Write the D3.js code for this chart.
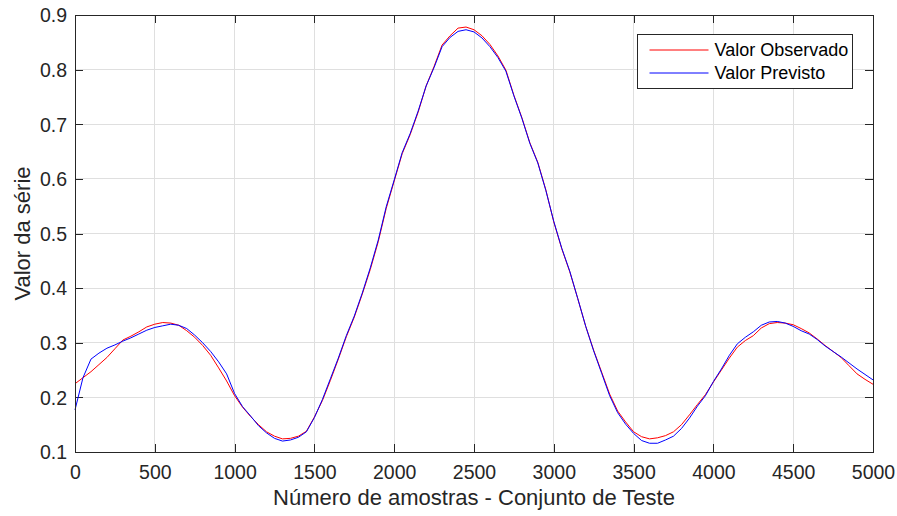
<!DOCTYPE html>
<html>
<head>
<meta charset="utf-8">
<script src="https://cdn.jsdelivr.net/npm/d3@7"></script>
<style>
  html, body { margin: 0; padding: 0; background: #fff; }
  svg { display: block; font-family: "Liberation Sans", Arial, Helvetica, sans-serif; }
</style>
</head>
<body>
<svg id="chart" width="897" height="516"></svg>
<script>
// Sample index (x) for both series, every 50 samples from 0 to 5000
const samples = d3.range(0, 5001, 50);

// Observed series
const observed = [
  0.225, 0.236, 0.247, 0.260, 0.273, 0.289, 0.305, 0.312, 0.320, 0.329,
  0.334, 0.337, 0.336, 0.332, 0.322, 0.310, 0.295, 0.277, 0.254, 0.230,
  0.203, 0.182, 0.165, 0.150, 0.137, 0.129, 0.124, 0.125, 0.129, 0.138,
  0.164, 0.194, 0.231, 0.270, 0.311, 0.347, 0.389, 0.434, 0.485, 0.546,
  0.596, 0.646, 0.681, 0.722, 0.770, 0.806, 0.845, 0.862, 0.876, 0.878,
  0.873, 0.862, 0.846, 0.825, 0.799, 0.753, 0.712, 0.666, 0.630, 0.580,
  0.521, 0.472, 0.430, 0.381, 0.330, 0.286, 0.246, 0.206, 0.175, 0.155,
  0.137, 0.128, 0.124, 0.126, 0.130, 0.137, 0.150, 0.168, 0.187, 0.205,
  0.228, 0.250, 0.272, 0.292, 0.304, 0.313, 0.327, 0.335, 0.337, 0.336,
  0.333, 0.326, 0.318, 0.307, 0.295, 0.284, 0.273, 0.258, 0.243, 0.233,
  0.224
];

// Predicted series
const predicted = [
  0.177, 0.236, 0.270, 0.281, 0.290, 0.296, 0.303, 0.309, 0.316, 0.323,
  0.328, 0.331, 0.334, 0.332, 0.326, 0.314, 0.300, 0.284, 0.265, 0.243,
  0.207, 0.183, 0.166, 0.148, 0.135, 0.125, 0.120, 0.122, 0.127, 0.137,
  0.163, 0.196, 0.234, 0.272, 0.313, 0.349, 0.391, 0.437, 0.488, 0.549,
  0.598, 0.648, 0.683, 0.724, 0.770, 0.804, 0.842, 0.859, 0.870, 0.873,
  0.869, 0.858, 0.842, 0.822, 0.797, 0.752, 0.711, 0.665, 0.629, 0.579,
  0.522, 0.473, 0.431, 0.381, 0.330, 0.285, 0.244, 0.203, 0.172, 0.151,
  0.134, 0.121, 0.116, 0.116, 0.122, 0.129, 0.143, 0.162, 0.184, 0.203,
  0.229, 0.252, 0.277, 0.298, 0.310, 0.320, 0.332, 0.338, 0.339, 0.336,
  0.330, 0.322, 0.316, 0.306, 0.294, 0.284, 0.274, 0.263, 0.252, 0.242,
  0.232
];

// Axis ticks and labels
const xTicks = [0, 500, 1000, 1500, 2000, 2500, 3000, 3500, 4000, 4500, 5000];
const yTicks = [0.1, 0.2, 0.3, 0.4, 0.5, 0.6, 0.7, 0.8, 0.9];
const seriesNames = ["Valor Observado", "Valor Previsto"];
const seriesColors = ["#ff0000", "#0000ff"];
const xLabel = "Número de amostras - Conjunto de Teste";
const yLabel = "Valor da série";

const svg = d3.select("#chart");
const margin = { left: 75, top: 15, right: 897 - 873, bottom: 516 - 452 };
const W = 897 - margin.left - margin.right;
const H = 516 - margin.top - margin.bottom;

const x = d3.scaleLinear().domain([0, 5000]).range([0, W]);
const y = d3.scaleLinear().domain([0.1, 0.9]).range([H, 0]);

const g = svg.append("g").attr("transform", `translate(${margin.left},${margin.top})`);

// Grid
g.append("g").selectAll("line").data(xTicks.slice(1, -1)).join("line")
  .attr("x1", d => x(d)).attr("x2", d => x(d))
  .attr("y1", 0).attr("y2", H)
  .attr("stroke", "#dfdfdf").attr("stroke-width", 1).attr("shape-rendering", "crispEdges");
g.append("g").selectAll("line").data(yTicks.slice(1, -1)).join("line")
  .attr("y1", d => y(d)).attr("y2", d => y(d))
  .attr("x1", 0).attr("x2", W)
  .attr("stroke", "#dfdfdf").attr("stroke-width", 1).attr("shape-rendering", "crispEdges");

// Axes with inward ticks
const tickLen = 8;
const fmtX = d3.format("d");
const fmtY = d3.format(".1f");
const axisColor = "#262626";

const xAxis = g.append("g").attr("transform", `translate(0,${H})`)
  .call(d3.axisBottom(x).tickValues(xTicks).tickFormat(fmtX).tickSizeInner(-tickLen).tickSizeOuter(0).tickPadding(13));
const yAxis = g.append("g")
  .call(d3.axisLeft(y).tickValues(yTicks).tickFormat(fmtY).tickSizeInner(-tickLen).tickSizeOuter(0).tickPadding(8));
const xTop = g.append("g")
  .call(d3.axisTop(x).tickValues(xTicks).tickSizeInner(-tickLen).tickSizeOuter(0).tickFormat(""));
const yRight = g.append("g").attr("transform", `translate(${W},0)`)
  .call(d3.axisRight(y).tickValues(yTicks).tickSizeInner(-tickLen).tickSizeOuter(0).tickFormat(""));

[xAxis, yAxis, xTop, yRight].forEach(a => {
  a.select(".domain").attr("stroke", axisColor).attr("shape-rendering", "crispEdges");
  a.selectAll(".tick line").attr("stroke", axisColor).attr("shape-rendering", "crispEdges");
  a.selectAll(".tick text").attr("fill", axisColor).style("font-size", "19.5px")
    .style("font-family", "'Liberation Sans', Arial, sans-serif");
});
yAxis.selectAll(".tick text").attr("dy", "0.35em");

// Series lines
const line = d3.line().x((d, i) => x(samples[i])).y(d => y(d));
[observed, predicted].forEach((vals, k) => {
  g.append("path").datum(vals)
    .attr("fill", "none")
    .attr("stroke", seriesColors[k])
    .attr("stroke-width", 1)
    .attr("stroke-linejoin", "round")
    .attr("d", line);
});

// Frame on top
g.append("rect").attr("x", 0).attr("y", 0).attr("width", W).attr("height", H)
  .attr("fill", "none").attr("stroke", axisColor).attr("stroke-width", 1)
  .attr("shape-rendering", "crispEdges");

// Axis titles
svg.append("text")
  .attr("x", margin.left + W / 2).attr("y", 505)
  .attr("text-anchor", "middle")
  .attr("fill", axisColor)
  .style("font-size", "22px")
  .text(xLabel);
svg.append("text")
  .attr("transform", `translate(30,${margin.top + H / 2}) rotate(-90)`)
  .attr("text-anchor", "middle")
  .attr("fill", axisColor)
  .style("font-size", "22px")
  .text(yLabel);

// Legend
const lg = svg.append("g").attr("transform", "translate(637.5,34.5)");
lg.append("rect").attr("width", 215).attr("height", 54)
  .attr("fill", "#fff").attr("stroke", axisColor).attr("stroke-width", 1)
  .attr("shape-rendering", "crispEdges");
seriesNames.forEach((name, i) => {
  const cy = 15.5 + i * 23;
  lg.append("line").attr("x1", 12).attr("x2", 71).attr("y1", cy).attr("y2", cy)
    .attr("stroke", seriesColors[i]).attr("stroke-width", 1);
  lg.append("text").attr("x", 77).attr("y", cy).attr("dy", "0.35em")
    .attr("fill", "#000").style("font-size", "18px").text(name);
});
</script>
</body>
</html>
